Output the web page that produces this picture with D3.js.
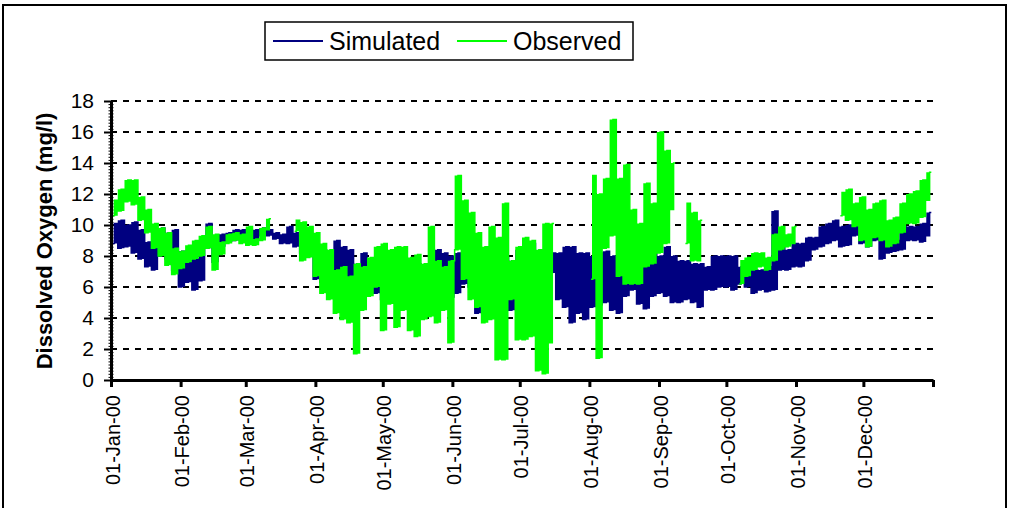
<!DOCTYPE html>
<html>
<head>
<meta charset="utf-8">
<script src="https://cdn.jsdelivr.net/npm/d3@7"></script>
<style>
  body { margin: 0; background: #fff; }
  svg { font-family: "Liberation Sans", Arial, sans-serif; }
</style>
</head>
<body>
<svg id="chart" width="1011" height="508"></svg>
<script>
// values, one low/high pair per 3-day block from 01-Jan-00
const simLo = [8.8,8.5,8.6,8.2,7.8,7.3,7.1,8.0,7.8,7.1, 6.0,6.3,5.8,6.4,8.5,7.6,8.6,8.9,9.0,9.1,
  9.2,9.1,9.3,9.3,9.1,8.8,8.8,8.6,8.2,8.1, 6.5,6.3,6.0,6.7,6.5,6.2,6.0,6.9,6.7,5.6,
  5.2,6.0,5.8,6.2,6.0,6.2,5.2,4.3,6.2,6.7, 5.3,5.6,6.2,6.0,4.3,5.2,5.4,5.4,5.4,4.5,
  6.4,6.4,6.4,5.8,7.1,6.9,5.2,4.7,3.7,4.3, 3.9,4.7,4.8,5.0,4.5,4.3,5.4,5.8,4.9,4.6,
  5.4,5.6,5.4,5.0,5.0,5.2,5.0,4.7,5.8,5.8, 6.0,6.0,5.8,6.2,6.0,5.6,5.8,5.7,5.8,7.1,
  7.1,7.3,7.3,7.7,8.4,8.6,8.8,9.0,8.6,8.7, 9.3,8.8,8.6,9.0,7.8,8.2,8.3,8.4,9.0,9.0,
  8.9,9.3];
const simHi = [10.1,10.3,10.0,10.2,9.7,8.9,8.5,9.8,9.5,9.7, 8.3,7.7,7.8,8.8,10.1,9.2,9.4,9.5,9.7,9.7,
  9.6,9.7,9.8,9.7,9.5,9.4,9.9,9.5,8.8,8.4, 8.6,8.4,8.0,9.0,8.6,8.4,7.5,8.2,7.7,7.1,
  6.2,6.9,6.9,7.3,7.3,7.5,7.3,5.6,8.4,8.2, 8.0,8.2,7.3,7.1,6.2,6.7,7.3,7.3,7.9,7.7,
  8.4,8.6,8.8,8.0,8.0,8.2,8.2,8.6,8.6,8.2, 8.2,8.0,8.2,8.3,8.0,7.7,8.2,7.3,7.3,7.7,
  8.2,8.0,8.6,8.0,7.7,7.7,7.5,7.5,7.3,8.0, 8.0,8.0,8.0,7.3,7.3,7.1,7.1,7.3,10.9,8.8,
  8.4,8.8,8.8,9.2,9.2,9.9,10.1,10.3,9.9,10.0, 10.1,10.1,9.7,9.9,9.2,9.2,9.0,9.9,9.9,9.9,
  10.1,10.8];
const obsLo = [10.6,10.9,11.5,11.3,10.3,9.5,8.5,8.0,7.4,6.8, 7.2,7.6,7.8,8.0,8.5,7.1,8.1,8.8,9.0,8.8,
  8.7,8.7,9.0,9.7,null,null,null,9.6,7.7,7.9, 6.7,5.6,5.2,4.3,3.9,3.7,1.7,4.5,5.4,6.0,
  3.2,4.9,3.4,4.5,3.2,2.8,3.9,4.1,3.7,4.5, 2.4,8.4,6.5,5.2,4.7,3.7,3.9,1.3,1.3,5.2,
  2.6,2.6,2.8,0.6,0.4,2.4,null,null,null,null, null,6.5,1.4,8.5,9.3,6.7,6.2,6.2,6.2,7.3,
  7.5,8.2,8.8,11.0,null,8.8,7.7,7.7,null,null, null,null,null,6.2,6.7,7.1,7.3,7.1,7.7,8.4,
  8.6,8.8,null,null,null,null,null,null,10.6,10.3, 9.9,9.0,8.6,9.2,9.0,8.6,8.8,9.5,10.1,10.1,
  10.5,11.6];
const obsHi = [11.6,12.3,12.9,12.9,11.8,11.0,10.1,9.8,9.5,8.5, 8.3,8.7,9.0,9.3,9.9,9.4,8.9,9.4,9.5,9.4,
  9.9,9.1,9.8,10.4,null,null,null,10.3,10.2,9.9, 9.5,8.8,8.4,7.1,7.3,6.7,7.5,7.3,7.9,8.6,
  8.8,8.4,8.6,8.6,7.9,8.1,7.5,9.9,7.7,7.3, 7.7,13.2,11.6,10.8,9.5,8.6,9.9,9.2,11.4,7.7,
  8.6,9.2,9.0,8.4,10.1,10.1,null,null,null,null, null,13.2,12.0,13.0,16.8,13.0,13.9,11.0,10.1,12.7,
  11.4,16.0,14.8,14.0,null,11.4,10.8,10.3,null,null, null,null,null,7.7,7.9,8.2,8.2,7.9,9.4,9.9,
  9.4,9.9,null,null,null,null,null,null,12.1,12.3, 11.4,11.8,11.0,11.4,11.6,10.3,10.5,11.4,12.0,12.2,
  12.9,13.4];
const yTicks = [0, 2, 4, 6, 8, 10, 12, 14, 16, 18];
const seriesNames = ["Simulated", "Observed"];
const seriesColors = ["#000080", "#00ff00"];

const svg = d3.select("#chart");
const start = Date.UTC(2000, 0, 1);
const dayDate = d => new Date(start + d * 86400000);

const x = d3.scaleUtc().domain([new Date(Date.UTC(2000, 0, 1)), new Date(Date.UTC(2001, 0, 1))]).range([111, 933]);
const y = d3.scaleLinear().domain([0, 18]).range([380, 101]);

// outer frame
svg.append("rect")
   .attr("x", 3).attr("y", 5).attr("width", 1003).attr("height", 520)
   .attr("fill", "none").attr("stroke", "#000").attr("stroke-width", 2);

// dashed gridlines
svg.append("g")
   .selectAll("line")
   .data(yTicks.filter(d => d > 0))
   .enter().append("line")
   .attr("x1", x.range()[0]).attr("x2", x.range()[1])
   .attr("y1", d => y(d)).attr("y2", d => y(d))
   .attr("stroke", "#000").attr("stroke-width", 2)
   .attr("stroke-dasharray", "6,6");

function toPoints(lo, hi) {
    const pts = [];
    lo.forEach((v, i) => {
        pts.push({ t: dayDate(3 * i + 0.75), v: v });
        pts.push({ t: dayDate(3 * i + 2.25), v: hi[i] });
    });
    return pts;
}

function toBlocks(lo, hi) {
    return lo.map((v, i) => ({ t: dayDate(3 * i + 1.5), lo: v, hi: hi[i] }));
}

const line = d3.line()
    .defined(d => d.v != null)
    .curve(d3.curveStep)
    .x(d => x(d.t))
    .y(d => y(d.v));

const band = d3.area()
    .defined(d => d.lo != null)
    .curve(d3.curveStep)
    .x(d => x(d.t))
    .y0(d => y(d.lo))
    .y1(d => y(d.hi));

[[simLo, simHi], [obsLo, obsHi]].forEach((s, k) => {
    svg.append("path")
       .datum(toBlocks(s[0], s[1]))
       .attr("fill", seriesColors[k])
       .attr("d", band);
    svg.append("path")
       .datum(toPoints(s[0], s[1]))
       .attr("fill", "none")
       .attr("stroke", seriesColors[k])
       .attr("stroke-width", 1.5)
       .attr("d", line);
});

// y axis
const yAxis = svg.append("g")
   .attr("transform", "translate(111,0)")
   .call(d3.axisLeft(y).tickValues(yTicks).tickSize(7).tickSizeOuter(0).tickPadding(10));
yAxis.select(".domain").attr("stroke-width", 3);
yAxis.selectAll(".tick line").attr("stroke-width", 2);
yAxis.selectAll("text").attr("font-size", "21px").attr("fill", "#000");

// y minor ticks
svg.append("g")
   .attr("transform", "translate(113.5,0)")
   .call(d3.axisLeft(y).tickValues(d3.range(0, 18.01, 0.2)).tickSize(5).tickFormat(""))
   .call(g => g.select(".domain").remove());

// x axis
const xTicks = d3.utcMonth.range(x.domain()[0], x.domain()[1]).concat([x.domain()[1]]);
const fmt = d3.utcFormat("%d-%b-%y");
const xAxis = svg.append("g")
   .attr("transform", "translate(0,380)")
   .call(d3.axisBottom(x).tickValues(xTicks).tickSize(7).tickSizeOuter(0)
           .tickFormat((d, i) => i < 12 ? fmt(d) : ""));
xAxis.select(".domain").attr("stroke-width", 3);
xAxis.selectAll(".tick line").attr("stroke-width", 3);
xAxis.selectAll("text")
     .attr("font-size", "20px").attr("fill", "#000")
     .attr("x", 0).attr("y", 0).attr("dy", 0)
     .attr("text-anchor", "end")
     .attr("transform", "translate(8,15) rotate(-90)");

// y axis title
svg.append("text")
   .attr("transform", "translate(52,241) rotate(-90)")
   .attr("text-anchor", "middle")
   .attr("font-size", "22px")
   .attr("font-weight", "bold")
   .text("Dissolved Oxygen (mg/l)");

// legend
const legend = svg.append("g");
legend.append("rect")
      .attr("x", 265).attr("y", 22).attr("width", 368).attr("height", 38)
      .attr("fill", "#fff").attr("stroke", "#000").attr("stroke-width", 1.5);
const legX = [273, 457];
seriesNames.forEach((name, k) => {
    legend.append("line")
          .attr("x1", legX[k]).attr("x2", legX[k] + 50)
          .attr("y1", 41).attr("y2", 41)
          .attr("stroke", seriesColors[k]).attr("stroke-width", 2);
    legend.append("text")
          .attr("x", legX[k] + 56).attr("y", 50)
          .attr("font-size", "25px")
          .text(name);
});
</script>
</body>
</html>
